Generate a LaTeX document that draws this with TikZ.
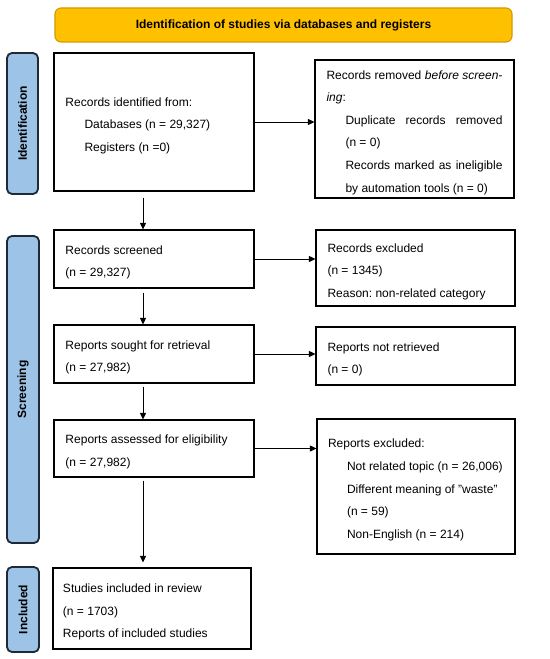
\documentclass[tikz,border=0pt]{standalone}
\usepackage{fontspec}
\setmainfont{Liberation Sans}
\usetikzlibrary{arrows.meta}
\definecolor{bannergold}{HTML}{FFC000}
\definecolor{bannerline}{HTML}{D39A00}
\definecolor{sideblue}{HTML}{9DC3E6}
\definecolor{sideline}{HTML}{1E2A38}
\frenchspacing
\newcommand{\boxtext}[2]{\raisebox{-3.5bp}[\height][\depth]{\parbox{#1}{\raggedright #2}}}
\begin{document}
\begin{tikzpicture}[x=1bp,y=-1bp,
  box/.style={draw=black,line width=1.1bp,fill=white,inner xsep=11.5bp,inner ysep=0pt,
    font=\fontsize{12bp}{22.6bp}\selectfont},
  side/.style={draw=sideline,line width=1.8bp,fill=sideblue,rounded corners=5bp,rotate=90,
    inner sep=0pt,font=\bfseries\fontsize{12bp}{14bp}\selectfont},
  arr/.style={line width=0.9bp,-{Triangle[length=6.5bp,width=6bp]}}]
\useasboundingbox (0,0) rectangle (550,659);

% banner
\node[draw=bannerline,fill=bannergold,line width=1.1bp,rounded corners=6bp,minimum width=457bp,
  minimum height=34bp,inner sep=0pt,font=\bfseries\fontsize{12bp}{14bp}\selectfont]
  (banner) at (283.5,25) {Identification of studies via databases and registers};

% side labels
\node[side,minimum width=141bp,minimum height=31bp] (sideid) at (22.5,123.5) {Identification};
\node[side,minimum width=307bp,minimum height=32bp] (sidescr) at (23,389.5) {Screening};
\node[side,minimum width=85bp,minimum height=32bp] (sideinc) at (23,609.5) {Included};

% left column
\node[box,minimum height=138bp] (ident) at (154,122)
  {\boxtext{177bp}{Records identified from:\\\hspace*{19bp}Databases (n = 29,327)\\\hspace*{19bp}Registers (n =0)}};
\node[box,minimum height=58bp] (scr) at (154,259)
  {\boxtext{177bp}{Records screened\\(n = 29,327)}};
\node[box,minimum height=58bp] (sought) at (154,354)
  {\boxtext{177bp}{Reports sought for retrieval\\(n = 27,982)}};
\node[box,minimum height=57bp] (assess) at (154,448.5)
  {\boxtext{177bp}{Reports assessed for eligibility\\(n = 27,982)}};
\node[box,inner xsep=10bp,minimum height=81bp] (incl) at (152,608.5)
  {\boxtext{178bp}{Studies included in review\\(n = 1703)\\Reports of included studies}};

% right column
\node[box,minimum height=138bp] (rem) at (414.5,129)
  {\boxtext{176bp}{\makebox[176bp][s]{Records removed \textit{before screen-}}\\\textit{ing}:\\
   \hspace*{19bp}\makebox[157bp][s]{Duplicate records removed}\\
   \hspace*{19bp}(n = 0)\\
   \hspace*{19bp}\makebox[157bp][s]{Records marked as ineligible}\\
   \hspace*{19bp}by automation tools (n = 0)}};
\node[box,minimum height=76bp] (exc) at (415.5,268)
  {\boxtext{176bp}{Records excluded\\(n = 1345)\\Reason: non-related category}};
\node[box,minimum height=58bp] (notret) at (415.5,356)
  {\boxtext{176bp}{Reports not retrieved\\(n = 0)}};
\node[box,inner xsep=11bp,minimum height=135bp] (repexc) at (416,486.5)
  {\boxtext{176bp}{Reports excluded:\\\hspace*{19bp}\mbox{Not related topic (n = 26,006)}\\
   \hspace*{19bp}Different meaning of "waste"\\\hspace*{19bp}(n = 59)\\
   \hspace*{19bp}Non-English (n = 214)}};

% horizontal arrows
\draw[arr] (ident.east) -- (ident.east -| rem.west);
\draw[arr] (scr.east) -- (scr.east -| exc.west);
\draw[arr] (sought.east) -- (sought.east -| notret.west);
\draw[arr] (assess.east) -- (assess.east -| repexc.west);

% vertical arrows
\coordinate (v1) at ([xshift=-11bp]ident.south);
\coordinate (v2) at ([xshift=-11bp]scr.south);
\coordinate (v3) at ([xshift=-11bp]sought.south);
\coordinate (v4) at ([xshift=-11bp]assess.south);
\draw[arr] ([yshift=-6bp]v1) -- (v1 |- scr.north);
\draw[arr] ([yshift=-4bp]v2) -- (v2 |- sought.north);
\draw[arr] ([yshift=-3bp]v3) -- (v3 |- assess.north);
\draw[arr,shorten >=5bp] ([yshift=-3bp]v4) -- (v4 |- incl.north);
\end{tikzpicture}
\end{document}
